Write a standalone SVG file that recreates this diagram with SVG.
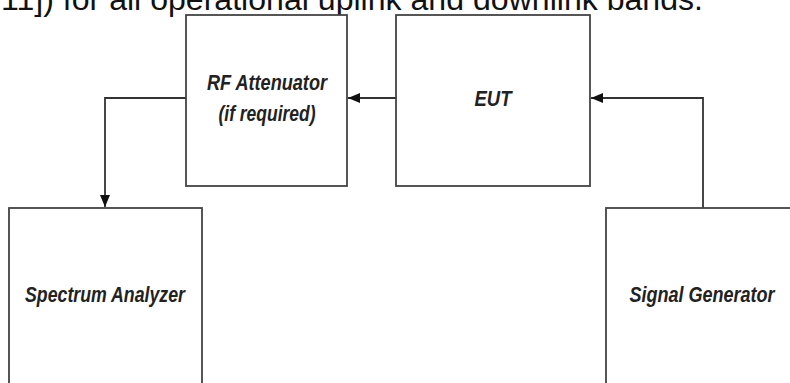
<svg xmlns="http://www.w3.org/2000/svg" width="790" height="383" viewBox="0 0 790 383">
<style>
.box{fill:#fff;stroke:#444;stroke-width:1.8}
.lbl{font-family:"Liberation Sans",Arial,sans-serif;font-size:22px;font-weight:bold;font-style:italic;fill:#222;text-anchor:middle}
.conn{fill:none;stroke:#333;stroke-width:1.8;marker-end:url(#arr)}
.top{font-family:"Liberation Sans",Arial,sans-serif;font-size:32px;fill:#111}
</style>
<defs>
<marker id="arr" viewBox="0 0 12 10" refX="12" refY="5" markerWidth="12" markerHeight="10" markerUnits="userSpaceOnUse" orient="auto">
<path d="M0,0 L12,5 L0,10 z" fill="#111"/>
</marker>
</defs>
<rect width="790" height="383" fill="#fff"/>
<text class="top" x="1" y="9.5" textLength="702" lengthAdjust="spacingAndGlyphs">11]) for all operational uplink and downlink bands.</text>
<g id="connectors">
<path class="conn" d="M396,98 H348"/>
<path class="conn" d="M186,98 H105 V207"/>
<path class="conn" d="M703,208 V98 H591"/>
</g>
<g id="rf-attenuator">
<rect class="box" x="186" y="15" width="161" height="171"/>
<text class="lbl" x="267" y="90" textLength="120" lengthAdjust="spacingAndGlyphs">RF Attenuator</text>
<text class="lbl" x="267" y="121" textLength="97" lengthAdjust="spacingAndGlyphs">(if required)</text>
</g>
<g id="eut">
<rect class="box" x="396" y="15" width="194" height="171"/>
<text class="lbl" x="493" y="106" textLength="37" lengthAdjust="spacingAndGlyphs">EUT</text>
</g>
<g id="spectrum-analyzer">
<rect class="box" x="9" y="208" width="193" height="177"/>
<text class="lbl" x="105" y="302" textLength="160" lengthAdjust="spacingAndGlyphs">Spectrum Analyzer</text>
</g>
<g id="signal-generator">
<rect class="box" x="606" y="208" width="186" height="177"/>
<text class="lbl" x="702" y="302" textLength="145" lengthAdjust="spacingAndGlyphs">Signal Generator</text>
</g>
</svg>
